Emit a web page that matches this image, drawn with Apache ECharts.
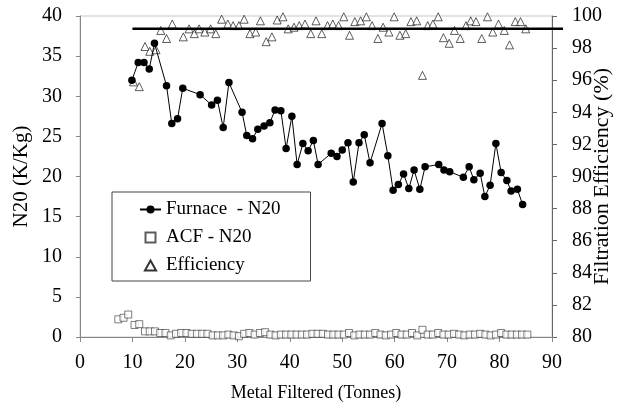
<!DOCTYPE html>
<html>
<head>
<meta charset="utf-8">
<script src="https://cdn.jsdelivr.net/npm/echarts@6/dist/echarts.min.js"></script>
<style>
  html, body { margin: 0; padding: 0; background: #fff; }
  #chart { width: 621px; height: 405px; }
</style>
</head>
<body>
<div id="chart"></div>
<script>
// furnace N20 readings (tonnes, K/Kg)
const furnaceX = [9.9, 11.1, 12.2, 13.2, 14.2, 16.5, 17.5, 18.6, 19.6, 22.9, 25.1, 26.2, 27.3, 28.4, 30.9,
  31.8, 32.9, 33.9, 35.1, 36.2, 37.2, 38.3, 39.3, 40.4, 41.4, 42.5, 43.5, 44.5, 45.4, 47.9,
  49.0, 50.0, 51.1, 52.1, 53.2, 54.2, 55.3, 57.6, 58.7, 59.7, 60.7, 61.7, 62.7, 63.7, 64.8,
  65.8, 68.4, 69.4, 70.5, 73.1, 74.2, 75.1, 76.3, 77.2, 78.2, 79.3, 80.3, 81.4, 82.2, 83.4, 84.4];
const furnaceY = [32.0, 34.2, 34.2, 33.4, 36.6, 31.3, 26.6, 27.2, 31.0, 30.2, 28.9, 29.5, 26.1, 31.7, 28.0,
  25.1, 24.7, 25.9, 26.3, 26.7, 28.3, 28.2, 23.5, 27.5, 21.5, 24.1, 23.2, 24.5, 21.5, 22.9,
  22.5, 23.3, 24.2, 19.3, 24.2, 25.2, 21.7, 26.6, 22.6, 18.3, 19.0, 20.3, 18.5, 20.8, 18.4,
  21.2, 21.5, 20.8, 20.6, 19.9, 21.2, 19.6, 20.4, 17.5, 18.9, 24.1, 20.5, 19.5, 18.2, 18.4, 16.5];

// ACF N20 readings
const acfX = [7.3, 8.3, 9.2, 10.4, 11.3, 12.4, 13.3, 14.3, 15.3, 16.3, 17.3, 18.3, 19.3, 20.3, 21.3,
  22.3, 23.3, 24.3, 25.3, 26.3, 27.3, 28.3, 29.3, 30.3, 31.3, 32.3, 33.3, 34.3, 35.3, 36.3,
  37.3, 38.3, 39.3, 40.3, 41.3, 42.3, 43.3, 44.3, 45.3, 46.3, 47.3, 48.3, 49.3, 50.3, 51.3,
  52.3, 53.3, 54.3, 55.3, 56.3, 57.3, 58.3, 59.3, 60.3, 61.3, 62.3, 63.3, 64.3, 65.3, 66.3,
  67.3, 68.3, 69.3, 70.3, 71.3, 72.3, 73.3, 74.3, 75.3, 76.3, 77.3, 78.3, 79.3, 80.3, 81.3,
  82.3, 83.3, 84.3, 85.3];
const acfY = [2.2, 2.4, 2.8, 1.5, 1.6, 0.7, 0.7, 0.7, 0.5, 0.5, 0.2, 0.4, 0.5, 0.5, 0.4,
  0.4, 0.4, 0.4, 0.2, 0.2, 0.2, 0.3, 0.2, 0.1, 0.4, 0.5, 0.3, 0.5, 0.6, 0.3,
  0.2, 0.3, 0.3, 0.3, 0.3, 0.3, 0.3, 0.4, 0.4, 0.4, 0.3, 0.3, 0.3, 0.3, 0.5,
  0.2, 0.3, 0.3, 0.3, 0.5, 0.3, 0.2, 0.3, 0.5, 0.3, 0.3, 0.5, 0.2, 0.9, 0.3,
  0.3, 0.5, 0.3, 0.3, 0.4, 0.3, 0.2, 0.3, 0.3, 0.4, 0.3, 0.2, 0.3, 0.5, 0.3,
  0.3, 0.3, 0.3, 0.3];

// filtration efficiency (%)
const effX = [10.2, 11.3, 12.4, 13.3, 14.5, 15.4, 16.5, 17.6, 19.7, 20.8, 21.8, 22.7, 23.8, 24.9, 25.9,
  27.0, 28.2, 29.2, 30.3, 31.3, 32.4, 33.5, 34.4, 35.5, 36.6, 37.6, 38.7, 39.7, 40.8, 41.8,
  42.9, 44.0, 45.0, 46.1, 47.2, 48.2, 49.3, 50.3, 51.4, 52.4, 53.5, 54.6, 55.7, 56.8, 57.8,
  58.9, 59.9, 61.0, 62.1, 63.1, 64.2, 65.3, 66.3, 67.3, 68.3, 69.3, 70.4, 71.4, 72.5, 73.6,
  74.5, 75.5, 76.6, 77.7, 78.7, 79.8, 80.9, 81.9, 83.0, 84.0, 85.0];
const effY = [95.9, 95.6, 98.1, 97.8, 97.9, 99.1, 98.6, 99.5, 98.7, 99.2, 98.9, 99.2, 99.0, 99.2, 98.9,
  99.8, 99.5, 99.4, 99.4, 99.8, 98.9, 99.0, 99.7, 98.4, 98.7, 99.75, 99.95, 99.2, 99.3, 99.4,
  99.5, 98.9, 99.7, 98.9, 99.4, 99.5, 99.4, 99.95, 98.8, 99.65, 99.7, 99.95, 99.4, 98.6, 99.3,
  99.0, 99.95, 98.8, 98.9, 99.65, 99.7, 96.3, 99.4, 99.5, 99.95, 98.65, 98.3, 99.1, 98.6, 99.4,
  99.7, 99.65, 98.6, 99.95, 99.0, 99.5, 99.1, 98.2, 99.65, 99.65, 99.2];

// target efficiency line (runs a little past the right axis, as in the original)
const targetX = [10, 92.1];
const targetY = [99.2, 99.2];

const pair = (xs, ys) => xs.map((x, i) => [x, ys[i]]);

const font = "'Liberation Serif', 'DejaVu Serif', serif";
const axisGrey = "#888";

const chart = echarts.init(document.getElementById("chart"));
chart.setOption({
  animation: false,
  textStyle: { fontFamily: font },
  grid: [
    {
      left: 80, right: 69, top: 16, bottom: 68,
      outerBoundsMode: "none",
      containLabel: false,
      show: true, borderColor: "#c8c8c8", borderWidth: 1,
    },
    // same scale as the main grid, just wider so the target line can overhang
    {
      left: 80, right: 58, top: 16, bottom: 68,
      outerBoundsMode: "none",
      containLabel: false,
    },
  ],
  legend: {
    orient: "vertical",
    left: 112, top: 192,
    padding: [8, 30, 6, 27],
    itemGap: 9,
    itemWidth: 21, itemHeight: 10,
    borderColor: "#444", borderWidth: 1,
    textStyle: { fontFamily: font, fontSize: 19, color: "#000" },
    data: [
      { name: "Furnace  - N20" },
      { name: "ACF - N20", icon: "path://M0,0L10,0L10,10L0,10Z" },
      { name: "Efficiency", icon: "path://M5,0L10,9L0,9Z" },
    ],
  },
  xAxis: [
    {
      type: "value", min: 0, max: 90, interval: 10,
      name: "Metal Filtered (Tonnes)", nameLocation: "middle", nameGap: 47,
      nameMoveOverlap: false,
      nameTextStyle: { fontFamily: font, fontSize: 18, color: "#000" },
      axisLine: { lineStyle: { color: axisGrey } },
      axisTick: { show: true, length: 5, lineStyle: { color: axisGrey } },
      axisLabel: { fontFamily: font, fontSize: 20, color: "#000", margin: 16 },
      splitLine: { show: false },
    },
    {
      gridIndex: 1, type: "value", min: 0, max: 92.1, show: false,
    },
  ],
  yAxis: [
    {
      type: "value", min: 0, max: 40, interval: 5,
      name: "N20 (K/Kg)", nameLocation: "middle", nameGap: 48,
      nameMoveOverlap: false,
      nameTextStyle: { fontFamily: font, fontSize: 21, color: "#000" },
      axisLine: { show: true, lineStyle: { color: axisGrey } },
      axisTick: { show: true, length: 4, lineStyle: { color: axisGrey } },
      axisLabel: { fontFamily: font, fontSize: 20, color: "#000", margin: 18 },
      splitLine: { show: false },
    },
    {
      type: "value", min: 80, max: 100, interval: 2,
      name: "Filtration Efficiency (%)", nameLocation: "middle", nameGap: 39, nameRotate: 90,
      nameMoveOverlap: false,
      nameTextStyle: { fontFamily: font, fontSize: 22, color: "#000" },
      axisLine: { show: true, lineStyle: { color: "#666" } },
      axisTick: { show: true, length: 5, lineStyle: { color: "#666" } },
      axisLabel: { fontFamily: font, fontSize: 20, color: "#000", margin: 20 },
      splitLine: { show: false },
    },
    {
      gridIndex: 1, type: "value", min: 80, max: 100, show: false,
    },
  ],
  series: [
    {
      name: "target",
      type: "line",
      xAxisIndex: 1,
      yAxisIndex: 2,
      data: pair(targetX, targetY),
      symbol: "none",
      silent: true,
      lineStyle: { color: "#000", width: 2.5 },
    },
    {
      name: "Efficiency",
      type: "scatter",
      yAxisIndex: 1,
      data: pair(effX, effY),
      symbol: "triangle",
      symbolSize: 8,
      itemStyle: { color: "#fff", borderColor: "#000", borderWidth: 0.8 },
    },
    {
      name: "ACF - N20",
      type: "scatter",
      data: pair(acfX, acfY),
      symbol: "rect",
      symbolSize: 7,
      itemStyle: { color: "#fff", borderColor: "#333", borderWidth: 0.8 },
    },
    {
      name: "Furnace  - N20",
      type: "line",
      data: pair(furnaceX, furnaceY),
      symbol: "circle",
      symbolSize: 7.5,
      showAllSymbol: true,
      itemStyle: { color: "#000" },
      lineStyle: { color: "#000", width: 1 },
    },
  ],
});
</script>
</body>
</html>
